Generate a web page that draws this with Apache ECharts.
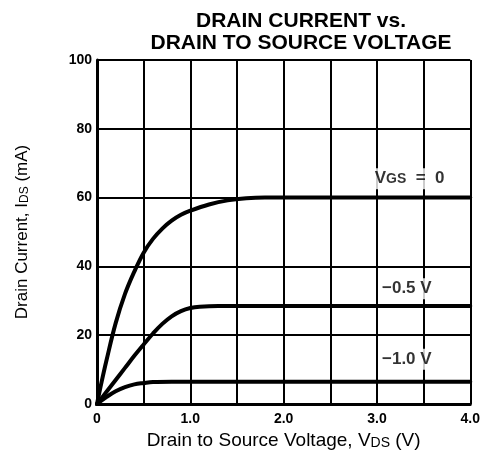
<!DOCTYPE html>
<html>
<head>
<meta charset="utf-8">
<script src="https://cdn.jsdelivr.net/npm/echarts@6/dist/echarts.min.js"></script>
<style>
  html, body { margin: 0; padding: 0; background: #fff; }
  #main { width: 483px; height: 456px; }
</style>
</head>
<body>
<div id="main"></div>
<script>
// 读图得到的数据 (Vds in V, Ids in mA)
const vgs0 = [
  [0, 0], [0.05, 6.5], [0.1, 12.5], [0.2, 23.5], [0.3, 32], [0.4, 38.5], [0.5, 44],
  [0.6, 48], [0.7, 51], [0.8, 53.3], [0.9, 55], [1.0, 56.2], [1.2, 58],
  [1.4, 59.2], [1.6, 59.8], [1.8, 60], [4.0, 60]
];
const vgsM05 = [
  [0, 0], [0.1, 3.5], [0.2, 7], [0.3, 10.5], [0.4, 14], [0.5, 17.3], [0.6, 20.5],
  [0.7, 23.3], [0.8, 25.5], [0.9, 27], [1.0, 27.9], [1.1, 28.3], [1.3, 28.5], [4.0, 28.5]
];
const vgsM10 = [
  [0, 0], [0.1, 2], [0.2, 3.7], [0.3, 4.9], [0.4, 5.7], [0.5, 6.1], [0.6, 6.4],
  [0.8, 6.5], [4.0, 6.5]
];
const curveLabels = ['V{sub|GS}  =  0', '\u22120.5 V', '\u22121.0 V'];
const labelPos = [[3.35, 65.5], [3.32, 33.5], [3.32, 13]];
const xTicks = { 0: '0', 1: '1.0', 2: '2.0', 3: '3.0', 4: '4.0' };

const FONT = 'Liberation Sans, Arial, Helvetica, sans-serif';
const chart = echarts.init(document.getElementById('main'));

function curve(data) {
  return {
    type: 'line',
    data: data,
    smooth: 0.4,
    showSymbol: false,
    sampling: null,
    lineStyle: { color: '#000', width: 4, cap: 'round', join: 'round' },
    z: 3
  };
}

const option = {
  backgroundColor: '#fff',
  animation: false,
  title: {
    text: 'DRAIN CURRENT vs.\nDRAIN TO SOURCE VOLTAGE',
    left: 296,
    top: 5,
    textAlign: 'center',
    textStyle: {
      fontFamily: FONT,
      fontWeight: 'bold',
      fontSize: 21,
      lineHeight: 22,
      color: '#000'
    }
  },
  grid: { left: 97, right: 6, top: 60, bottom: 52 },
  xAxis: {
    type: 'value',
    min: 0,
    max: 4,
    interval: 0.5,
    name: 'Drain to Source Voltage, V{s|DS} (V)',
    nameLocation: 'middle',
    nameGap: 27,
    nameTextStyle: {
      fontFamily: FONT,
      fontSize: 19,
      color: '#000',
      rich: { s: { fontSize: 14, fontFamily: FONT, color: '#000', verticalAlign: 'bottom' } }
    },
    axisLine: { show: true, onZero: false, lineStyle: { color: '#000', width: 3 } },
    axisTick: { show: false },
    axisLabel: {
      color: '#000',
      fontWeight: 'bold',
      fontSize: 14,
      fontFamily: FONT,
      margin: 8,
      formatter: v => (xTicks[v] !== undefined ? xTicks[v] : '')
    },
    splitLine: { show: true, lineStyle: { color: '#000', width: 2 } }
  },
  yAxis: {
    type: 'value',
    min: 0,
    max: 100,
    interval: 20,
    name: 'Drain Current, I{s|DS} (mA)',
    nameLocation: 'middle',
    nameGap: 66,
    nameTextStyle: {
      fontFamily: FONT,
      fontSize: 17,
      color: '#000',
      rich: { s: { fontSize: 12, fontFamily: FONT, color: '#000', verticalAlign: 'bottom' } }
    },
    axisLine: { show: true, onZero: false, lineStyle: { color: '#000', width: 3 } },
    axisTick: { show: false },
    axisLabel: {
      color: '#000',
      fontWeight: 'bold',
      fontSize: 14,
      fontFamily: FONT,
      margin: 5
    },
    splitLine: { show: true, lineStyle: { color: '#000', width: 2 } }
  },
  series: [
    curve(vgs0),
    curve(vgsM05),
    curve(vgsM10),
    {
      type: 'scatter',
      symbolSize: 0,
      z: 5,
      data: labelPos.map((p, i) => ({ value: p, name: curveLabels[i] })),
      label: {
        show: true,
        position: 'inside',
        formatter: p => p.name,
        color: '#000',
        fontWeight: 'bold',
        fontSize: 17,
        fontFamily: FONT,
        backgroundColor: '#fff',
        padding: [2, 3],
        rich: {
          sub: { fontSize: 14, fontWeight: 'bold', color: '#000', fontFamily: FONT }
        }
      }
    }
  ]
};

chart.setOption(option);
</script>
</body>
</html>
